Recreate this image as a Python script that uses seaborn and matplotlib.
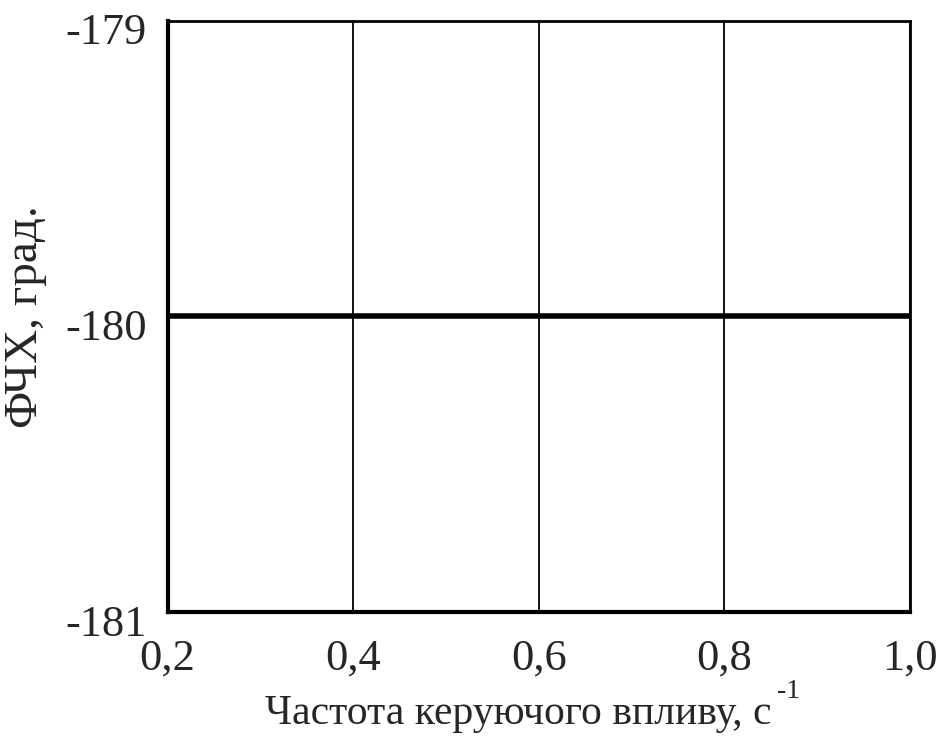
import matplotlib
matplotlib.use("Agg")
import matplotlib.pyplot as plt
import matplotlib.transforms as mtransforms
import seaborn as sns
from matplotlib.ticker import FuncFormatter

freq = [0.2, 0.4, 0.6, 0.8, 1.0]
phase = [-180, -180, -180, -180, -180]
x_ticks = [0.2, 0.4, 0.6, 0.8, 1.0]
y_ticks = [-181, -180, -179]

sns.set_style("white")
plt.rcParams['font.family'] = ['Liberation Serif', 'DejaVu Serif']

fig = plt.figure(figsize=(9.42, 7.38), dpi=100)
ax = fig.add_axes([0.178, 0.171, 0.788, 0.801])
sns.lineplot(x=freq, y=phase, ax=ax, color='black', linewidth=4)

ax.set_xlim(0.2, 1.0)
ax.set_ylim(-181, -179)
ax.set_xticks(x_ticks)
ax.set_yticks(y_ticks)
ax.xaxis.set_major_formatter(FuncFormatter(lambda v, p: f"{v:.1f}".replace('.', ',')))
ax.yaxis.set_major_formatter(FuncFormatter(lambda v, p: f"{v:.0f}"))
ax.tick_params(axis='both', length=0, labelsize=32)
ax.tick_params(axis='x', pad=19)
ax.tick_params(axis='y', pad=15)
ax.grid(axis='x', color='black', linewidth=1.3)
ax.grid(axis='y', visible=False)

# y labels sit a little below their lines in the original
shift = mtransforms.ScaledTranslation(0, -6 / 72, fig.dpi_scale_trans)
for lbl in ax.get_yticklabels():
    lbl.set_transform(lbl.get_transform() + shift)

for side in ['left', 'bottom']:
    ax.spines[side].set_linewidth(3)
for side in ['top', 'right']:
    ax.spines[side].set_linewidth(2)
for s in ax.spines.values():
    s.set_color('black')

ax.set_xlabel('Частота керуючого впливу, c', fontsize=30, labelpad=12)
ax.xaxis.label.set_x(0.472)
ax.annotate('-1', xy=(1, 0.75), xycoords=ax.xaxis.label, xytext=(4, 0),
            textcoords='offset points', fontsize=20, va='bottom', ha='left')
ax.set_ylabel('ФЧХ, град.', fontsize=34, labelpad=13)

fig.savefig('out.png', dpi=100)
